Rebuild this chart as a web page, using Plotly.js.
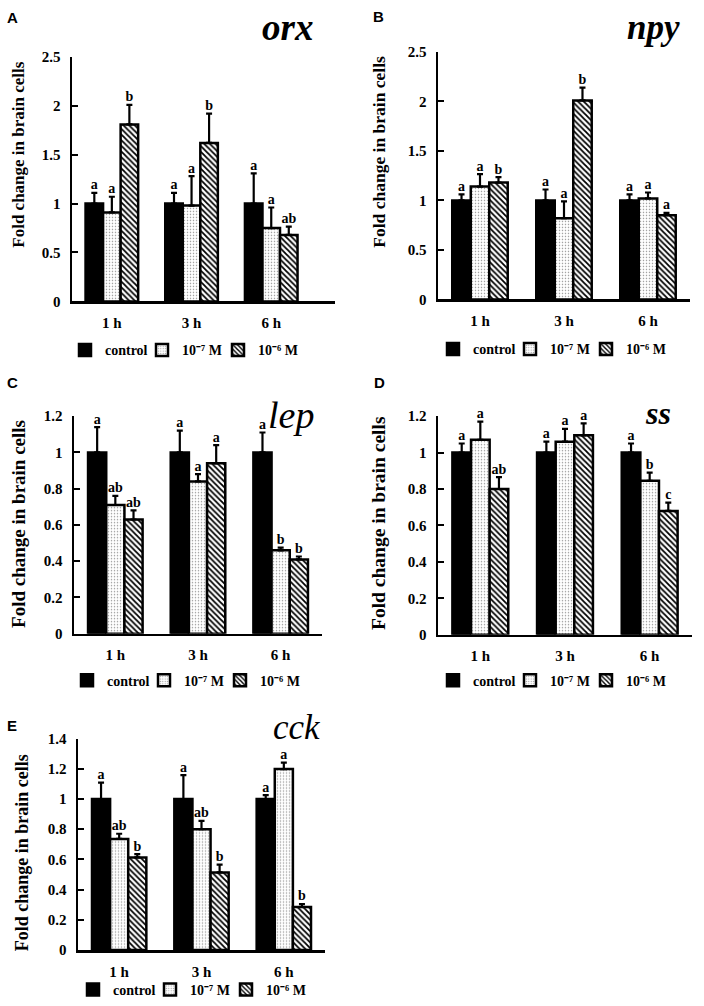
<!DOCTYPE html>
<html><head><meta charset="utf-8">
<script src="https://cdn.plot.ly/plotly-3.0.1.min.js"></script>
<style>html,body{margin:0;padding:0;background:#fff}</style>
</head><body><div id="chart" style="width:704px;height:1006px"></div>
<script>
// ---------------- data ----------------
const timepoints = ['1 h', '3 h', '6 h'];
const seriesNames = ['control', '10⁻⁷ M', '10⁻⁶ M'];
const genes = ['orx', 'npy', 'lep', 'ss', 'cck'];
const panelLetters = ['A', 'B', 'C', 'D', 'E'];
const yTitle = 'Fold change in brain cells';

// orx
const orx_control = [1.00, 1.00, 1.00];
const orx_control_err = [0.11, 0.11, 0.31];
const orx_m7 = [0.91, 0.98, 0.75];
const orx_m7_err = [0.16, 0.30, 0.21];
const orx_m6 = [1.81, 1.62, 0.68];
const orx_m6_err = [0.20, 0.30, 0.085];
const orx_letters_control = ['a', 'a', 'a'];
const orx_letters_m7 = ['a', 'a', 'a'];
const orx_letters_m6 = ['b', 'b', 'ab'];

// npy
const npy_control = [1.00, 1.00, 1.00];
const npy_control_err = [0.06, 0.11, 0.06];
const npy_m7 = [1.14, 0.82, 1.02];
const npy_m7_err = [0.125, 0.17, 0.06];
const npy_m6 = [1.18, 2.01, 0.85];
const npy_m6_err = [0.055, 0.13, 0.025];
const npy_letters_control = ['a', 'a', 'a'];
const npy_letters_m7 = ['a', 'a', 'a'];
const npy_letters_m6 = ['b', 'b', 'a'];

// lep
const lep_control = [1.00, 1.00, 1.00];
const lep_control_err = [0.14, 0.12, 0.11];
const lep_m7 = [0.71, 0.84, 0.46];
const lep_m7_err = [0.05, 0.04, 0.015];
const lep_m6 = [0.63, 0.94, 0.41];
const lep_m6_err = [0.05, 0.10, 0.016];
const lep_letters_control = ['a', 'a', 'a'];
const lep_letters_m7 = ['ab', 'a', 'b'];
const lep_letters_m6 = ['ab', 'a', 'b'];

// ss
const ss_control = [1.00, 1.00, 1.00];
const ss_control_err = [0.05, 0.06, 0.05];
const ss_m7 = [1.07, 1.06, 0.845];
const ss_m7_err = [0.10, 0.07, 0.045];
const ss_m6 = [0.80, 1.095, 0.68];
const ss_m6_err = [0.065, 0.065, 0.045];
const ss_letters_control = ['a', 'a', 'a'];
const ss_letters_m7 = ['a', 'a', 'b'];
const ss_letters_m6 = ['ab', 'a', 'c'];

// cck
const cck_control = [1.00, 1.00, 1.00];
const cck_control_err = [0.108, 0.158, 0.026];
const cck_m7 = [0.736, 0.80, 1.198];
const cck_m7_err = [0.034, 0.055, 0.042];
const cck_m6 = [0.613, 0.514, 0.286];
const cck_m6_err = [0.022, 0.051, 0.019];
const cck_letters_control = ['a', 'a', 'a'];
const cck_letters_m7 = ['ab', 'ab', 'a'];
const cck_letters_m6 = ['b', 'b', 'b'];

// y-axis ranges / tick steps per panel
const yMax = [2.5, 2.5, 1.2, 1.2, 1.4];
const yStep = [0.5, 0.5, 0.2, 0.2, 0.2];

// ---------------- layout geometry (pixels) ----------------
const W = 704, H = 1006;
const fx = p => p / W;
const fy = p => 1 - p / H;
const geom = [
  {x0: 72,  x1: 335, yTop: 57,  yBot: 302, xr: [-0.5, 2.8], lx: 184, ly: 351, tx: 19,  ty: 155, ts: 17,   gx: 287, gy: 28,  gs: 37, gb: true,  px: 12,  py: 18},
  {x0: 438, x1: 690, yTop: 52,  yBot: 300, xr: [-0.5, 2.5], lx: 552, ly: 350, tx: 379, ty: 152, ts: 17.5, gx: 653, gy: 28,  gs: 35, gb: true,  px: 378, py: 17},
  {x0: 74,  x1: 322, yTop: 417, yBot: 635, xr: [-0.5, 2.5], lx: 186, ly: 682, tx: 19,  ty: 525, ts: 19,   gx: 291, gy: 416, gs: 38, gb: false, px: 12,  py: 383},
  {x0: 438, x1: 692, yTop: 417, yBot: 636, xr: [-0.5, 2.5], lx: 552, ly: 682, tx: 379, ty: 524, ts: 19.5, gx: 658, gy: 414, gs: 32, gb: true,  px: 379, py: 383},
  {x0: 78,  x1: 325, yTop: 740, yBot: 952, xr: [-0.5, 2.5], lx: 192, ly: 992, tx: 22,  ty: 855, ts: 18,   gx: 297, gy: 729, gs: 35, gb: false, px: 12,  py: 727}
];

const SERIF = '"Liberation Serif", "Times New Roman", Times, serif';
const SANS = '"Liberation Sans", Arial, Helvetica, sans-serif';

const panelData = {
  orx: {vals: [orx_control, orx_m7, orx_m6], errs: [orx_control_err, orx_m7_err, orx_m6_err], letters: [orx_letters_control, orx_letters_m7, orx_letters_m6]},
  npy: {vals: [npy_control, npy_m7, npy_m6], errs: [npy_control_err, npy_m7_err, npy_m6_err], letters: [npy_letters_control, npy_letters_m7, npy_letters_m6]},
  lep: {vals: [lep_control, lep_m7, lep_m6], errs: [lep_control_err, lep_m7_err, lep_m6_err], letters: [lep_letters_control, lep_letters_m7, lep_letters_m6]},
  ss:  {vals: [ss_control, ss_m7, ss_m6],    errs: [ss_control_err, ss_m7_err, ss_m6_err],    letters: [ss_letters_control, ss_letters_m7, ss_letters_m6]},
  cck: {vals: [cck_control, cck_m7, cck_m6], errs: [cck_control_err, cck_m7_err, cck_m6_err], letters: [cck_letters_control, cck_letters_m7, cck_letters_m6]}
};

const markerStyles = [
  {color: '#000000', line: {color: '#000', width: 2.5}},
  {color: '#ffffff', line: {color: '#000', width: 2.5},
   pattern: {shape: '.', fgcolor: '#9a9a9a', bgcolor: '#ffffff', size: 3, solidity: 0.2}},
  {color: '#ffffff', line: {color: '#000', width: 2.5},
   pattern: {shape: '\\', fgcolor: '#000000', bgcolor: '#ffffff', size: 4, solidity: 0.45}}
];
// legend entry widths (px) to keep the legend compact
const legendWidths = [32, 31, 40];

const traces = [];
const layout = {
  width: W, height: H,
  margin: {l: 0, r: 0, t: 0, b: 0},
  paper_bgcolor: '#fff', plot_bgcolor: 'rgba(0,0,0,0)',
  barmode: 'group', bargap: 0.34, bargroupgap: 0,
  scattermode: 'group', scattergap: 0.34,
  showlegend: true,
  annotations: [],
  font: {family: SERIF, color: '#000'}
};

genes.forEach((g, k) => {
  const n = k === 0 ? '' : String(k + 1);
  const G = geom[k];
  const d = panelData[g];
  const legendId = 'legend' + n;
  for (let s = 0; s < 3; s++) {
    traces.push({
      type: 'bar', x: timepoints, y: d.vals[s], name: seriesNames[s],
      xaxis: 'x' + n, yaxis: 'y' + n, legend: legendId, legendwidth: legendWidths[s],
      offsetgroup: 'g' + s, marker: markerStyles[s],
      error_y: {type: 'data', symmetric: false, array: d.errs[s], arrayminus: d.errs[s].map(() => 0),
                color: '#000', thickness: 2.2, width: 3},
      hoverinfo: 'skip'
    });
  }
  for (let s = 0; s < 3; s++) {
    traces.push({
      type: 'scatter', mode: 'text', x: timepoints,
      y: d.vals[s].map((v, i) => v + d.errs[s][i]),
      text: d.letters[s], textposition: 'top center',
      textfont: {family: SERIF, size: 14, weight: 'bold', color: '#000'},
      xaxis: 'x' + n, yaxis: 'y' + n, offsetgroup: 'g' + s,
      showlegend: false, hoverinfo: 'skip', cliponaxis: false
    });
  }
  layout['xaxis' + n] = {
    domain: [fx(G.x0), fx(G.x1)], anchor: 'y' + n, type: 'category',
    range: G.xr, showline: true, linewidth: 2.5, linecolor: '#000',
    ticks: '', showgrid: false, zeroline: false, fixedrange: true,
    tickfont: {family: SERIF, size: 15, weight: 'bold', color: '#000'},
    ticklabelstandoff: 6
  };
  layout['yaxis' + n] = {
    domain: [fy(G.yBot), fy(G.yTop)], anchor: 'x' + n,
    range: [0, yMax[k]], dtick: yStep[k], tick0: 0,
    showline: true, linewidth: 2.5, linecolor: '#000',
    ticks: 'inside', ticklen: 6, tickwidth: 2, tickcolor: '#000',
    showgrid: false, zeroline: false, fixedrange: true,
    tickfont: {family: SERIF, size: 15, weight: 'bold', color: '#000'},
    ticklabelstandoff: 6
  };
  layout[legendId] = {
    orientation: 'h', x: fx(G.lx), y: fy(G.ly), xanchor: 'center', yanchor: 'middle',
    xref: 'paper', yref: 'paper', bgcolor: 'rgba(0,0,0,0)',
    font: {family: SERIF, size: 14, weight: 'bold', color: '#000'},
    itemwidth: 30, itemclick: false, itemdoubleclick: false
  };
  // y-axis title
  layout.annotations.push({
    xref: 'paper', yref: 'paper', x: fx(G.tx), y: fy(G.ty), xanchor: 'center', yanchor: 'middle',
    text: yTitle, textangle: -90, showarrow: false,
    font: {family: SERIF, size: G.ts, weight: 'bold', color: '#000'}
  });
  // gene name
  layout.annotations.push({
    xref: 'paper', yref: 'paper', x: fx(G.gx), y: fy(G.gy), xanchor: 'center', yanchor: 'middle',
    text: g, showarrow: false,
    font: {family: SERIF, size: G.gs, style: 'italic', weight: G.gb ? 'bold' : 'normal', color: '#000'}
  });
  // panel letter
  layout.annotations.push({
    xref: 'paper', yref: 'paper', x: fx(G.px), y: fy(G.py), xanchor: 'center', yanchor: 'middle',
    text: panelLetters[k], showarrow: false,
    font: {family: SANS, size: 15, weight: 'bold', color: '#000'}
  });
});

Plotly.newPlot('chart', traces, layout, {staticPlot: true, displayModeBar: false});
</script></body></html>
